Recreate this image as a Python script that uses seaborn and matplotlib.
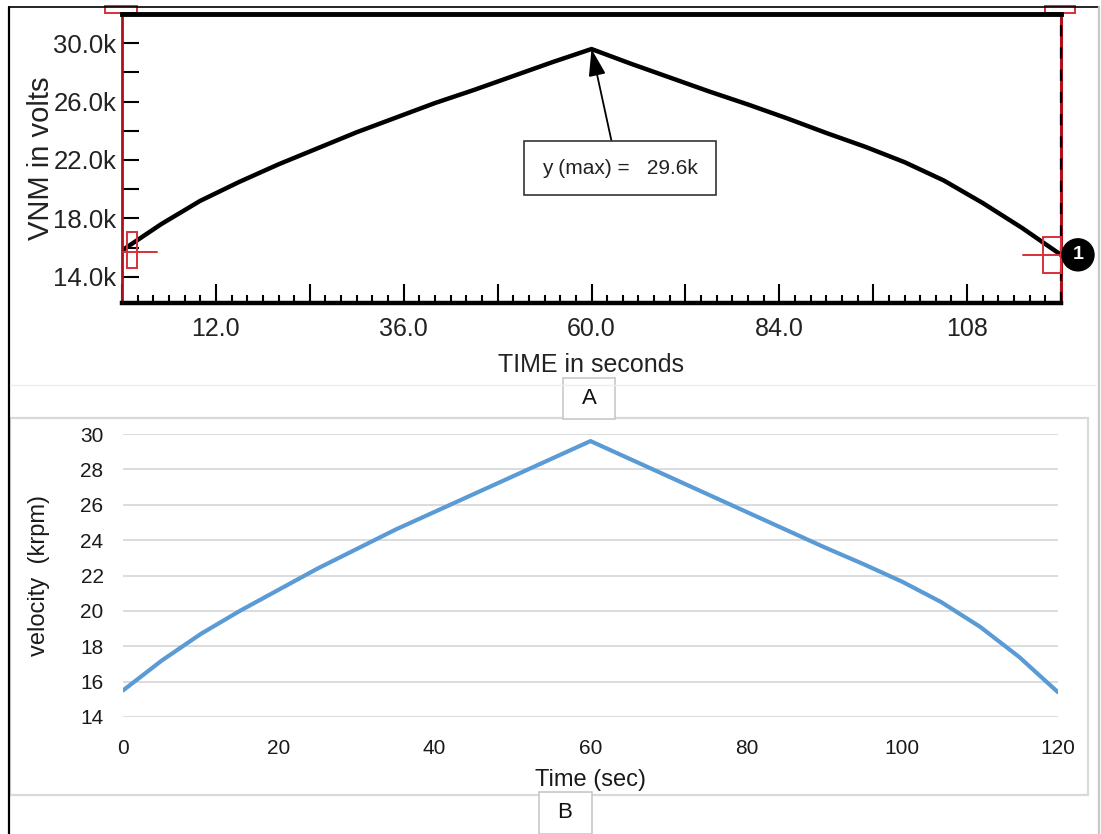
import seaborn as sns
import matplotlib.pyplot as plt
from matplotlib.patches import Rectangle, Circle
from matplotlib.lines import Line2D
from matplotlib.transforms import Affine2D, ScaledTranslation
from matplotlib.ticker import FixedLocator, MultipleLocator

# panel A : simulated VNM
TIME_A = [0, 5, 10, 15, 20, 25, 30, 35, 40, 45, 50, 55, 60,
          65, 70, 75, 80, 85, 90, 95, 100, 105, 110, 115, 120]
VNM = [15800, 17600, 19200, 20500, 21700, 22800, 23900, 24900, 25900, 26800, 27750, 28700, 29600,
       28600, 27650, 26700, 25800, 24850, 23850, 22900, 21850, 20600, 19050, 17350, 15500]
Y_TICKS_A = [14000, 18000, 22000, 26000, 30000]
Y_LABELS_A = ["14.0k", "18.0k", "22.0k", "26.0k", "30.0k"]
X_TICKS_A = [12, 36, 60, 84, 108]
X_LABELS_A = ["12.0", "36.0", "60.0", "84.0", "108"]
MAX_LABEL = "y (max) =   29.6k"

# panel B : measured velocity
TIME_B = [0, 5, 10, 15, 20, 25, 30, 35, 40, 45, 50, 55, 60,
          65, 70, 75, 80, 85, 90, 95, 100, 105, 110, 115, 120]
VELOCITY = [15.5, 17.2, 18.7, 20.0, 21.2, 22.4, 23.5, 24.6, 25.6, 26.6, 27.6, 28.6, 29.6,
            28.6, 27.6, 26.6, 25.6, 24.6, 23.6, 22.65, 21.65, 20.5, 19.1, 17.4, 15.4]
Y_TICKS_B = [14, 16, 18, 20, 22, 24, 26, 28, 30]
X_TICKS_B = [0, 20, 40, 60, 80, 100, 120]

W, H = 1101, 834

sns.set_theme(style="white")
plt.rcParams["font.family"] = ["Liberation Sans", "DejaVu Sans"]


def box(l, t, r, b):
    # pixel box -> figure fraction [left, bottom, width, height]
    return [l / W, 1 - b / H, (r - l) / W, (b - t) / H]


def fx(x):
    return x / W


def fy(y):
    return 1 - y / H


fig = plt.figure(figsize=(W / 100, H / 100), dpi=100)
fig.patch.set_facecolor("white")

# ---------------- panel A ----------------
axA = fig.add_axes(box(122, 14, 1061, 303))
sns.lineplot(x=TIME_A, y=VNM, ax=axA, color="black", linewidth=3.2)
axA.set_xlim(0, 120)
axA.set_ylim(12200, 32000)

axA.yaxis.set_major_locator(FixedLocator(Y_TICKS_A))
axA.set_yticklabels(Y_LABELS_A)
axA.yaxis.set_minor_locator(FixedLocator([16000, 20000, 24000, 28000]))
axA.tick_params(axis="y", which="both", direction="in", length=12, width=1.5,
                color="black", left=True, labelsize=18.5, pad=4, labelcolor="#222222")

tall = list(range(0, 121, 12))
axA.xaxis.set_major_locator(FixedLocator(tall))
axA.set_xticklabels([X_LABELS_A[X_TICKS_A.index(t)] if t in X_TICKS_A else "" for t in tall])
axA.xaxis.set_minor_locator(MultipleLocator(2))
axA.tick_params(axis="x", which="major", direction="in", length=14, width=1.5,
                color="black", bottom=True, labelsize=18, pad=10, labelcolor="#222222")
axA.tick_params(axis="x", which="minor", direction="in", length=6, width=1.5,
                color="black", bottom=True)

axA.set_xlabel("TIME in seconds", fontsize=18, color="#222222", labelpad=9)
axA.set_ylabel("VNM in volts", fontsize=21, color="#222222", labelpad=-1)

axA.spines["left"].set_color("#b01018")
axA.spines["left"].set_linewidth(2)
axA.spines["right"].set_color("#b01018")
axA.spines["right"].set_linewidth(2.2)
axA.spines["top"].set_color("black")
axA.spines["top"].set_linewidth(3.5)
axA.spines["bottom"].set_color("black")
axA.spines["bottom"].set_linewidth(3.2)
axA.add_line(Line2D([1, 1], [0, 1], transform=axA.transAxes, color="black",
                    linewidth=1.6, linestyle=(0, (5, 5)), clip_on=False, zorder=3))

# max annotation
i_max = VNM.index(max(VNM))
axA.annotate(MAX_LABEL, xy=(TIME_A[i_max], VNM[i_max]), xytext=(620, H - 168),
             textcoords="figure pixels", ha="center", va="center", fontsize=15,
             color="#222222",
             bbox=dict(boxstyle="square,pad=0.85", fc="white", ec="#333333", lw=1.2),
             arrowprops=dict(arrowstyle="-|>,head_length=1.1,head_width=0.35",
                             color="black", lw=1.3, shrinkA=0, shrinkB=0,
                             relpos=(0.47, 1.0)))


def px_at(ax, x, y, trans=None):
    # pixel offsets anchored to a point of the axes
    return Affine2D() + ScaledTranslation(x, y, trans if trans is not None else ax.transData)


red = "#d8303a"
t0 = px_at(axA, TIME_A[0], VNM[0])
axA.add_patch(Rectangle((5, -18), 10, 36, transform=t0, fill=False, ec=red, lw=1.4, clip_on=False, zorder=4))
axA.add_line(Line2D([1, 35], [-2, -2], transform=t0, color=red, lw=1.4, clip_on=False, zorder=4))

t1 = px_at(axA, TIME_A[-1], VNM[-1])
axA.add_patch(Rectangle((-18, -18), 18, 36, transform=t1, fill=False, ec=red, lw=1.4, clip_on=False, zorder=4))
axA.add_line(Line2D([-38, 0], [0, 0], transform=t1, color=red, lw=1.4, clip_on=False, zorder=4))
axA.add_patch(Circle((17, 0), 16, transform=t1, fc="black", ec="black", clip_on=False, zorder=6))
axA.text(17, 0, "1", transform=t1, color="white", fontsize=14, fontweight="bold",
         ha="center", va="center", zorder=7)

tl = px_at(axA, 0, 1, axA.transAxes)
axA.add_patch(Rectangle((-17, 1), 32, 7, transform=tl, fill=False, ec=red, lw=1.4, clip_on=False, zorder=1))
tr = px_at(axA, 1, 1, axA.transAxes)
axA.add_patch(Rectangle((-16, 1), 30, 7, transform=tr, fill=False, ec=red, lw=1.4, clip_on=False, zorder=1))

# ---------------- panel B ----------------
axB = fig.add_axes(box(123, 434, 1058, 717))
sns.lineplot(x=TIME_B, y=VELOCITY, ax=axB, color="#5b9bd5", linewidth=3)
axB.set_xlim(0, 120)
axB.set_ylim(14, 30)
axB.set_yticks(Y_TICKS_B)
axB.set_xticks(X_TICKS_B)
axB.grid(axis="y", color="#d9d9d9", linewidth=1.3)
axB.grid(axis="x", visible=False)
axB.set_axisbelow(True)
for s in axB.spines.values():
    s.set_visible(False)
axB.tick_params(axis="both", length=0, labelsize=15, colors="#1a1a1a")
axB.tick_params(axis="x", pad=16)
axB.tick_params(axis="y", pad=14)
axB.set_xlabel("Time (sec)", fontsize=17, color="#1a1a1a", labelpad=8)
axB.set_ylabel("velocity  (krpm)", fontsize=17, color="#1a1a1a", labelpad=22)

# ---------------- page decorations ----------------
fig.add_artist(Line2D([fx(8.5), fx(8.5)], [fy(7), fy(834)], color="black", lw=1.6))
fig.add_artist(Line2D([fx(8.5), fx(1099)], [fy(7), fy(7)], color="black", lw=1.2))
fig.add_artist(Line2D([fx(1099), fx(1099)], [fy(7), fy(834)], color="#c8c8c8", lw=1.6))
fig.add_artist(Line2D([fx(10), fx(1095)], [fy(385), fy(385)], color="#efefef", lw=1))
fig.add_artist(Rectangle((fx(10), fy(795)), fx(1088) - fx(10), fy(418) - fy(795),
                         fill=False, ec="#d9d9d9", lw=1.6))

fig.add_artist(Rectangle((fx(563), fy(419)), fx(615) - fx(563), fy(378) - fy(419),
                         fc="white", ec="#c8c8c8", lw=1.2))
fig.text(fx(589), fy(399), "A", ha="center", va="center", fontsize=16, color="#111111")
fig.add_artist(Rectangle((fx(539), fy(834)), fx(592) - fx(539), fy(792) - fy(834),
                         fc="white", ec="#c8c8c8", lw=1.2))
fig.text(fx(565), fy(813), "B", ha="center", va="center", fontsize=16, color="#111111")

fig.savefig("out.png", dpi=100)
